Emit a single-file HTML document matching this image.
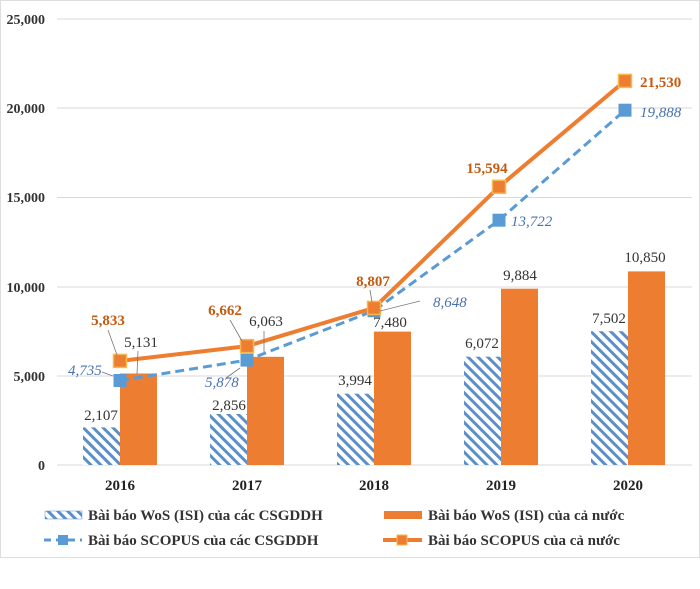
<!DOCTYPE html>
<html><head><meta charset="utf-8"><style>
html,body{margin:0;padding:0;background:#fff;}
svg{display:block;font-family:"Liberation Serif",serif;}
</style></head><body>
<svg width="700" height="589" viewBox="0 0 700 589" xmlns="http://www.w3.org/2000/svg">
<defs>
<pattern id="h" patternUnits="userSpaceOnUse" width="7" height="7" patternTransform="rotate(-45)">
<rect width="7" height="7" fill="#fff"/><rect width="3" height="7" fill="#5b8fc9"/>
</pattern>
</defs>
<rect x="0.5" y="0.5" width="699" height="557" fill="#fff" stroke="#ddd"/>
<g stroke="#d9d9d9" stroke-width="1">
<line x1="57" y1="19" x2="692" y2="19"/>
<line x1="57" y1="108" x2="692" y2="108"/>
<line x1="57" y1="197.5" x2="692" y2="197.5"/>
<line x1="57" y1="287" x2="692" y2="287"/>
<line x1="57" y1="376" x2="692" y2="376"/>
<line x1="57" y1="465" x2="692" y2="465"/>
</g>
<g font-size="14" font-weight="bold" fill="#333" text-anchor="end">
<text x="45" y="24">25,000</text><text x="45" y="113">20,000</text>
<text x="45" y="202">15,000</text><text x="45" y="292">10,000</text>
<text x="45" y="381">5,000</text><text x="45" y="470">0</text>
</g>
<g>
<rect x="83" y="427.4" width="37" height="37.6" fill="url(#h)"/>
<rect x="120" y="373.5" width="37" height="91.5" fill="#ed7d31"/>
<rect x="210" y="414" width="37" height="51" fill="url(#h)"/>
<rect x="247" y="356.8" width="37" height="108.2" fill="#ed7d31"/>
<rect x="337" y="393.7" width="37" height="71.3" fill="url(#h)"/>
<rect x="374" y="331.6" width="37" height="133.4" fill="#ed7d31"/>
<rect x="464" y="356.7" width="37" height="108.3" fill="url(#h)"/>
<rect x="501" y="288.7" width="37" height="176.3" fill="#ed7d31"/>
<rect x="591" y="331.2" width="37" height="133.8" fill="url(#h)"/>
<rect x="628" y="271.4" width="37" height="193.6" fill="#ed7d31"/>
</g>
<g font-size="15" fill="#333" text-anchor="middle">
<text x="101" y="420">2,107</text><text x="141" y="347">5,131</text>
<text x="229" y="410">2,856</text><text x="266" y="326">6,063</text>
<text x="355" y="385">3,994</text><text x="390" y="327">7,480</text>
<text x="482" y="348">6,072</text><text x="520" y="280">9,884</text>
<text x="609" y="323">7,502</text><text x="645" y="262">10,850</text>
</g>
<polyline points="120,380.5 247,360.1 374,310.7 499,220.2 625,110.2" fill="none" stroke="#5b9bd5" stroke-width="3" stroke-dasharray="9,5"/>
<polyline points="120,360.9 247,346.1 374,307.9 499,186.8 625,80.9" fill="none" stroke="#ed7d31" stroke-width="4"/>
<g fill="#5b9bd5">
<rect x="113.5" y="374" width="13" height="13"/><rect x="240.5" y="353.6" width="13" height="13"/>
<rect x="367.5" y="304.2" width="13" height="13"/><rect x="492.5" y="213.7" width="13" height="13"/>
<rect x="618.5" y="103.7" width="13" height="13"/>
</g>
<g fill="#ed7d31" stroke="#f8b84e" stroke-width="1.5">
<rect x="113.5" y="354.4" width="13" height="13"/><rect x="240.5" y="339.6" width="13" height="13"/>
<rect x="367.5" y="301.4" width="13" height="13"/><rect x="492.5" y="180.3" width="13" height="13"/>
<rect x="618.5" y="74.4" width="13" height="13"/>
</g>
<g stroke="#777" stroke-width="0.8" fill="none">
<line x1="108" y1="330" x2="117" y2="355"/><line x1="230" y1="320" x2="242" y2="341"/>
<line x1="102" y1="372" x2="113" y2="376"/><line x1="138" y1="351" x2="137" y2="374"/>
<line x1="264" y1="331" x2="264" y2="352"/><line x1="226" y1="378" x2="240" y2="368"/>
<line x1="370" y1="290" x2="372" y2="302"/><line x1="420" y1="301" x2="380" y2="311"/>
</g>
<g font-size="15" font-weight="bold" fill="#c55a11">
<text x="108" y="325" text-anchor="middle">5,833</text><text x="225" y="315" text-anchor="middle">6,662</text>
<text x="373" y="286" text-anchor="middle">8,807</text><text x="487" y="173" text-anchor="middle">15,594</text>
<text x="640" y="87">21,530</text>
</g>
<g font-size="15" font-style="italic" fill="#4a72b0">
<text x="68" y="375">4,735</text><text x="205" y="387">5,878</text>
<text x="433" y="307">8,648</text><text x="511" y="226">13,722</text>
<text x="640" y="117">19,888</text>
</g>
<g font-size="15" font-weight="bold" fill="#222" text-anchor="middle">
<text x="120" y="490">2016</text><text x="247" y="490">2017</text>
<text x="374" y="490">2018</text><text x="501" y="490">2019</text>
<text x="628" y="490">2020</text>
</g>
<rect x="45" y="511" width="37" height="8" fill="url(#h)" stroke="#5b8fc9" stroke-width="0.5"/>
<text x="88" y="520" font-size="15" font-weight="bold" fill="#333">Bài báo WoS (ISI) của các CSGDDH</text>
<rect x="384" y="511" width="38" height="8" fill="#ed7d31"/>
<text x="428" y="520" font-size="15" font-weight="bold" fill="#333">Bài báo WoS (ISI) của cả nước</text>
<line x1="44" y1="540" x2="82" y2="540" stroke="#5b9bd5" stroke-width="3" stroke-dasharray="7,5"/>
<rect x="58" y="535" width="10" height="10" fill="#5b9bd5"/>
<text x="88" y="545" font-size="15" font-weight="bold" fill="#333">Bài báo SCOPUS của các CSGDDH</text>
<line x1="383" y1="540" x2="422" y2="540" stroke="#ed7d31" stroke-width="4"/>
<rect x="397" y="535" width="10" height="10" fill="#ed7d31" stroke="#f8b84e"/>
<text x="428" y="545" font-size="15" font-weight="bold" fill="#333">Bài báo SCOPUS của cả nước</text>
</svg>
</body></html>
